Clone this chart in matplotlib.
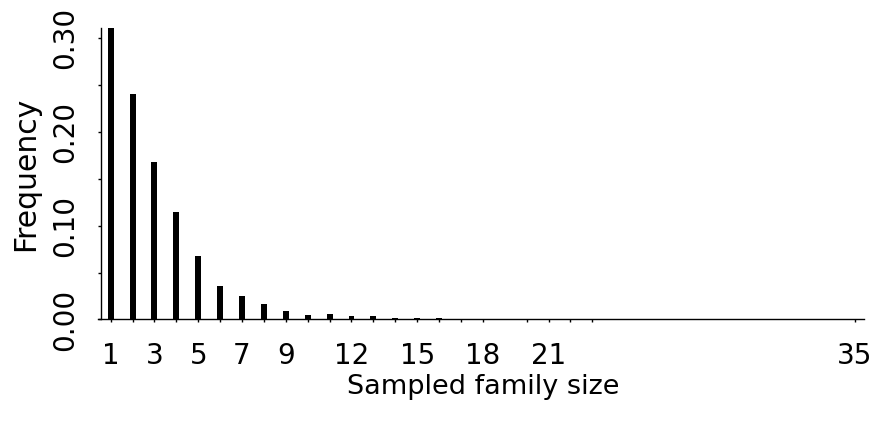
import matplotlib
matplotlib.use('Agg')
import matplotlib.pyplot as plt
from matplotlib.ticker import FixedLocator, NullFormatter

plt.rcParams['font.family'] = ['DejaVu Sans']

# observed family sizes and their relative frequencies
sizes = [1, 2, 3, 4, 5, 6, 7, 8, 9, 10, 11, 12, 13, 14, 15, 16, 17, 18,
         20, 21, 22, 23, 35]
freq = [0.310, 0.240, 0.168, 0.114, 0.068, 0.036, 0.025, 0.016, 0.009,
        0.005, 0.006, 0.0035, 0.0035, 0.0015, 0.0012, 0.0015, 0.0008,
        0.0010, 0.0004, 0.0004, 0.0004, 0.0004, 0.0003]
x_labels = [1, 3, 5, 7, 9, 12, 15, 18, 21, 35]
y_major = [0.0, 0.1, 0.2, 0.3]
y_minor = [0.05, 0.15, 0.25]

fig = plt.figure(figsize=(8.74, 4.23), dpi=100)
ax = fig.add_axes([0.1161, 0.2447, 0.8725, 0.6884])

ax.bar(sizes, freq, width=0.27, color='black', linewidth=0)

ax.set_xlim(0.58, 35.41)
ax.set_ylim(0, max(freq))

for s in ['top', 'right']:
    ax.spines[s].set_visible(False)
for s in ['left', 'bottom']:
    ax.spines[s].set_linewidth(1.0)
# bottom axis line pokes out a little past the left axis
ax.spines['bottom'].set_bounds(0.58 - 3.5 / 21.9, 35.41)

ax.xaxis.set_major_locator(FixedLocator(x_labels))
ax.xaxis.set_minor_locator(FixedLocator([s for s in sizes if s not in x_labels]))
ax.xaxis.set_minor_formatter(NullFormatter())
ax.set_xticklabels([str(v) for v in x_labels])

ax.yaxis.set_major_locator(FixedLocator(y_major))
ax.yaxis.set_minor_locator(FixedLocator(y_minor))
ax.yaxis.set_minor_formatter(NullFormatter())
ax.set_yticklabels(['%.2f' % v for v in y_major], rotation=90, va='center')

ax.tick_params(which='both', length=2.3, width=1.0, labelsize=20)
ax.tick_params(axis='x', which='both', pad=14)
ax.tick_params(axis='y', which='both', pad=14)

ax.set_xlabel('Sampled family size', fontsize=19.5, labelpad=3)
ax.set_ylabel('Frequency', fontsize=21.5, labelpad=8)

fig.savefig('out.png', dpi=100)
